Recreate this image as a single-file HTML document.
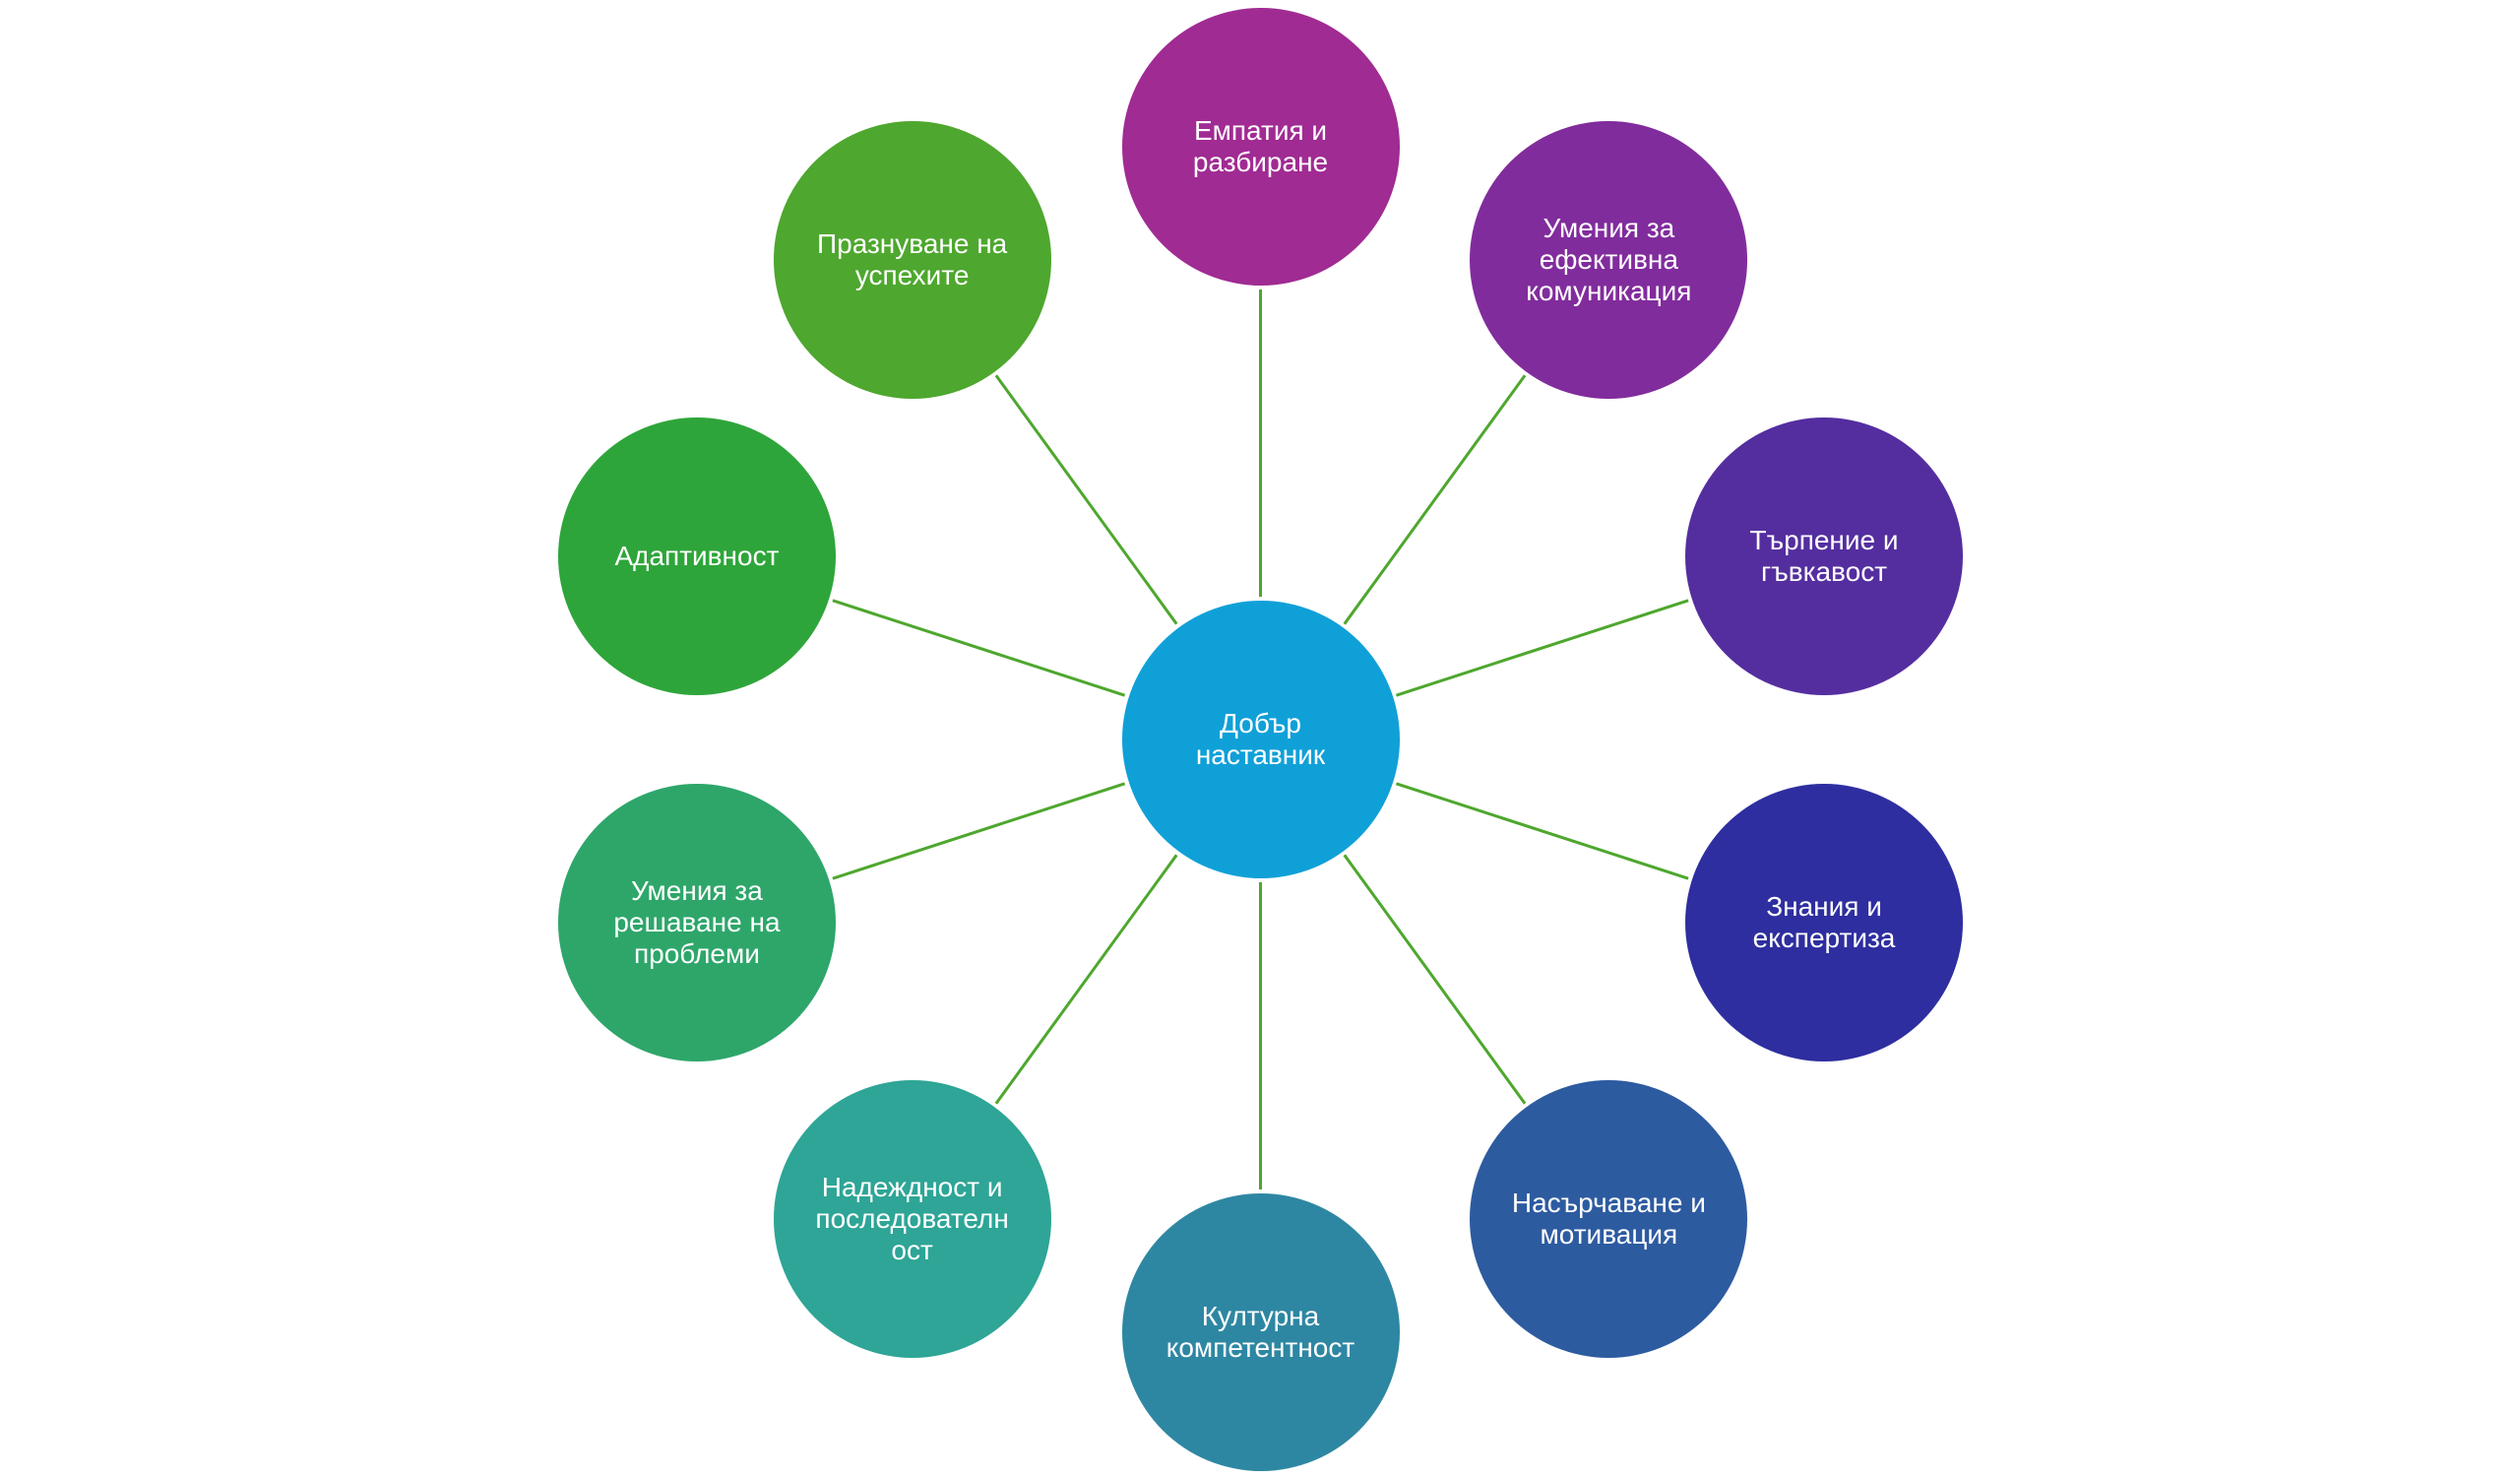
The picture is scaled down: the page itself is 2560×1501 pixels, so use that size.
<!DOCTYPE html>
<html>
<head>
<meta charset="utf-8">
<style>
  html, body { margin:0; padding:0; background:#ffffff; }
  body { width:2560px; height:1501px; position:relative; overflow:hidden; }
  svg { position:absolute; left:0; top:0; }
  .c { position:absolute; width:282px; height:282px; border-radius:50%;
       display:flex; align-items:center; justify-content:center; text-align:center;
       color:#ffffff; font-family:"Liberation Sans", sans-serif; font-size:28px; line-height:32px;
       white-space:nowrap; }
</style>
</head>
<body>
<svg width="2560" height="1501" viewBox="0 0 2560 1501">
  <g stroke="#4EA72E" stroke-width="3" fill="none">
    <line x1="1280.5" y1="606" x2="1280.5" y2="294"/>
    <line x1="1365.73" y1="633.69" x2="1549.12" y2="381.28"/>
    <line x1="1418.4" y1="706.19" x2="1715.13" y2="609.78"/>
    <line x1="1418.4" y1="795.81" x2="1715.13" y2="892.22"/>
    <line x1="1365.73" y1="868.31" x2="1549.12" y2="1120.72"/>
    <line x1="1280.5" y1="896" x2="1280.5" y2="1208"/>
    <line x1="1195.27" y1="868.31" x2="1011.88" y2="1120.72"/>
    <line x1="1142.6" y1="795.81" x2="845.87" y2="892.22"/>
    <line x1="1142.6" y1="706.19" x2="845.87" y2="609.78"/>
    <line x1="1195.27" y1="633.69" x2="1011.88" y2="381.28"/>
  </g>
</svg>

<div class="c" style="left:1139.5px; top:610px; background:#10A0D8;"><div>Добър<br>наставник</div></div>

<div class="c" style="left:1139.5px; top:8px; background:#A02B93;"><div>Емпатия и<br>разбиране</div></div>
<div class="c" style="left:1493.35px; top:122.97px; background:#812C9C;"><div>Умения за<br>ефективна<br>комуникация</div></div>
<div class="c" style="left:1712.04px; top:423.97px; background:#542E9F;"><div>Търпение и<br>гъвкавост</div></div>
<div class="c" style="left:1712.04px; top:796.03px; background:#2E2EA0;"><div>Знания и<br>експертиза</div></div>
<div class="c" style="left:1493.35px; top:1097.03px; background:#2D5BA0;"><div>Насърчаване и<br>мотивация</div></div>
<div class="c" style="left:1139.5px; top:1212px; background:#2E87A2;"><div>Културна<br>компетентност</div></div>
<div class="c" style="left:785.65px; top:1097.03px; background:#2EA596;"><div>Надеждност и<br>последователн<br>ост</div></div>
<div class="c" style="left:566.96px; top:796.03px; background:#2EA66A;"><div>Умения за<br>решаване на<br>проблеми</div></div>
<div class="c" style="left:566.96px; top:423.97px; background:#2EA53A;"><div>Адаптивност</div></div>
<div class="c" style="left:785.65px; top:122.97px; background:#4EA72E;"><div>Празнуване на<br>успехите</div></div>
</body>
</html>
